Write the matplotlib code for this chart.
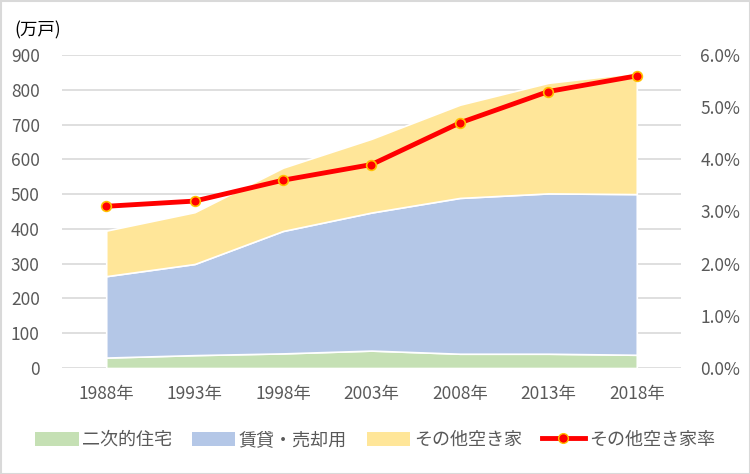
import matplotlib
matplotlib.use("Agg")
import matplotlib.pyplot as plt
from matplotlib.lines import Line2D
from matplotlib.patches import Patch, Rectangle

plt.rcParams['font.family'] = ['Noto Sans CJK JP', 'DejaVu Sans']

years = ["1988年", "1993年", "1998年", "2003年", "2008年", "2013年", "2018年"]
second_homes = [30, 37, 42, 50, 41, 41, 38]
rental_sale = [234, 262, 352, 397, 448, 461, 462]
other_vacant = [131, 149, 182, 212, 268, 318, 349]
other_rate = [3.1, 3.2, 3.6, 3.9, 4.7, 5.3, 5.6]

c_green = "#C5E0B4"
c_blue = "#B4C7E7"
c_yellow = "#FFE699"
c_text = "#595959"

fig = plt.figure(figsize=(7.5, 4.74), dpi=100)
ax = fig.add_axes([62/750, 1-368/474, (681-62)/750, (368-55)/474])
x = list(range(len(years)))
ax.stackplot(x, second_homes, rental_sale, other_vacant,
             colors=[c_green, c_blue, c_yellow], edgecolor="white", linewidth=1.2, zorder=2)
ax.set_xlim(-0.5, 6.5)
ax.set_ylim(0, 900)
ax.set_yticks(range(0, 901, 100))
ax.grid(axis='y', color="#D9D9D9", linewidth=1.2, zorder=0)
ax.set_axisbelow(True)
for s in ax.spines.values():
    s.set_visible(False)
ax.set_xticks(x)
ax.set_xticklabels(years)
ax.tick_params(axis='both', length=0, colors=c_text, labelsize=12.5)
ax.tick_params(axis='x', pad=12)
ax.tick_params(axis='y', pad=16)

ax2 = ax.twinx()
ax2.plot(x, other_rate, color="#FF0000", linewidth=3.5, marker='o', markersize=7,
         markerfacecolor="#FF0000", markeredgecolor="#FFC000", markeredgewidth=1.2, zorder=5)
ax2.set_ylim(0, 6)
ax2.set_yticks([0, 1, 2, 3, 4, 5, 6])
ax2.set_yticklabels([f"{v:.1f}%" for v in [0, 1, 2, 3, 4, 5, 6]])
ax2.tick_params(axis='y', length=0, colors=c_text, labelsize=12.5, pad=14)
for s in ax2.spines.values():
    s.set_visible(False)

fig.text(14/750, 1-30/474, "(万戸)", fontsize=12.5, color="#000000", va='center', ha='left')

handles = [Patch(facecolor=c_green, edgecolor='none'),
           Patch(facecolor=c_blue, edgecolor='none'),
           Patch(facecolor=c_yellow, edgecolor='none'),
           Line2D([0], [0], color="#FF0000", linewidth=3.5, marker='o', markersize=7,
                  markerfacecolor="#FF0000", markeredgecolor="#FFC000")]
labels = ["二次的住宅", "賃貸・売却用", "その他空き家", "その他空き家率"]
fig.legend(handles, labels, loc='center', bbox_to_anchor=(0.5, 1-440/474), ncol=4,
           frameon=False, fontsize=13, labelcolor=c_text, handlelength=2.4,
           handleheight=0.8, columnspacing=1.1, handletextpad=0.2)

fig.add_artist(Rectangle((0.5/750, 0.5/474), 1-1/750, 1-1/474, transform=fig.transFigure,
                         fill=False, edgecolor="#D9D9D9", linewidth=1.5))

fig.savefig("out.png", dpi=100)
